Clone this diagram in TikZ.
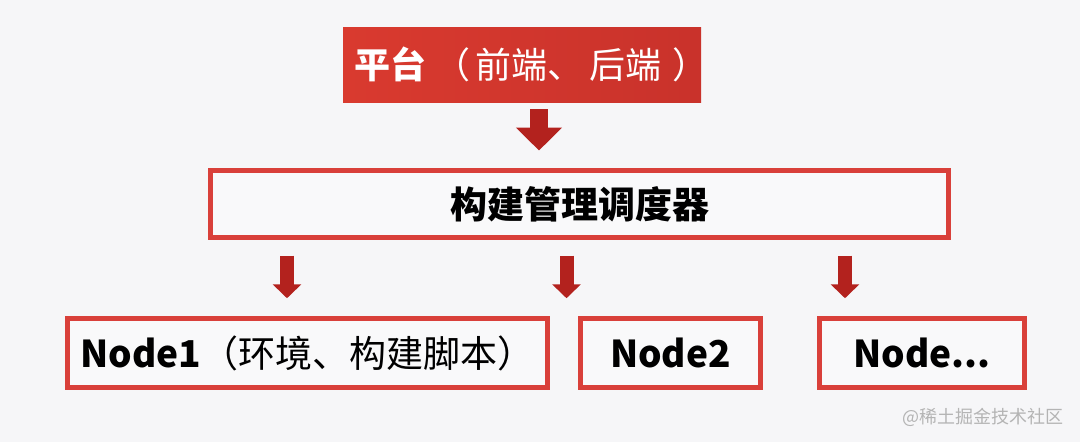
\documentclass[tikz,border=0pt]{standalone}
\usepackage{fontspec}
\setmainfont{Noto Sans CJK SC}
\usetikzlibrary{arrows.meta}
\definecolor{bg}{HTML}{F6F6F8}
\definecolor{boxfill}{HTML}{F9F9FA}
\definecolor{boxred}{HTML}{D9403A}
\definecolor{arrred}{HTML}{B3221E}
\definecolor{topL}{HTML}{D93A2F}
\definecolor{topR}{HTML}{C9322B}
\definecolor{wm}{HTML}{B4B4B4}
\begin{document}
\begin{tikzpicture}[x=1pt,y=-1pt,
  redbox/.style={draw=boxred,line width=5pt,fill=boxfill,inner sep=0pt,
    font=\fontsize{37}{40}\selectfont},
  topbox/.style={left color=topL,right color=topR,inner sep=0pt,text=white,
    font=\fontsize{36}{40}\selectfont},
  bigarrow/.style={draw=arrred,line width=18pt,line cap=butt,
    -{Triangle[width=45pt,length=23pt]}},
  smallarrow/.style={draw=arrred,line width=14pt,line cap=butt,
    -{Triangle[width=28pt,length=14pt]}},
  wmark/.style={text=wm,font=\fontsize{18}{20}\selectfont,inner sep=0pt}]
\fill[bg] (0,0) rectangle (1080,442);
\useasboundingbox (0,0) rectangle (1080,442);

\node[topbox,minimum width=358pt,minimum height=75pt] (top) at (522,64.5)
  {\makebox[0pt]{\hspace{18pt}\textbf{平台}\hspace{8pt}（\hspace{6pt}前端、\hspace{6pt}后端\hspace{10pt}）}};
\node[redbox,minimum width=738pt,minimum height=67pt] (mid) at (579.5,204)
  {\textbf{构建管理调度器}};
\node[redbox,minimum width=480pt,minimum height=69.5pt] (n1) at (307.5,353)
  {\textbf{Node1}（环境、构建脚本）};
\node[redbox,minimum width=180pt,minimum height=69.5pt] (n2) at (670.5,353)
  {\textbf{Node2}};
\node[redbox,minimum width=205pt,minimum height=69.5pt] (n3) at (922,353)
  {\textbf{Node...}};
\node[wmark] (wm) at (983,417) {@稀土掘金技术社区};

\coordinate (c0) at (539,0);
\coordinate (c1) at (287,0);
\coordinate (c2) at (566.5,0);
\coordinate (c3) at (845,0);
\draw[bigarrow,shorten <=7pt,shorten >=17.5pt] (top.south -| c0) -- (mid.north -| c0);
\draw[smallarrow,shorten <=15.5pt,shorten >=17.5pt] (mid.south -| c1) -- (n1.north -| c1);
\draw[smallarrow,shorten <=15.5pt,shorten >=17.5pt] (mid.south -| c2) -- (n2.north -| c2);
\draw[smallarrow,shorten <=15.5pt,shorten >=17.5pt] (mid.south -| c3) -- (n3.north -| c3);
\end{tikzpicture}
\end{document}
